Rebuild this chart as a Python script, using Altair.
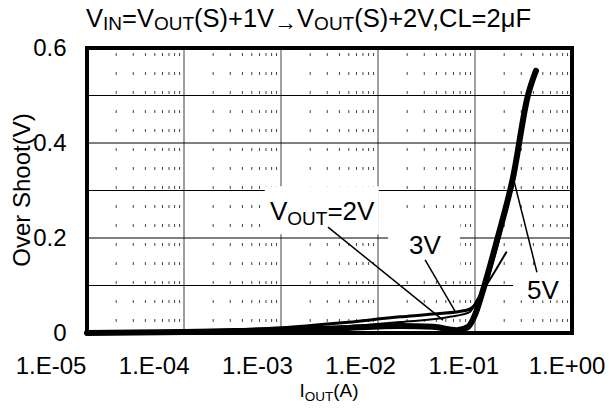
import altair as alt
import pandas as pd

# ---------------- data ----------------
I_2V = [1e-5, 1e-4, 1e-3, 4e-3, 0.017, 0.055, 0.088, 0.104, 0.14, 0.21]
V_2V = [0.0, 0.002, 0.007, 0.013, 0.023, 0.034, 0.044, 0.069, 0.11, 0.17]

I_3V = [1e-5, 1e-4, 1e-3, 4e-3, 0.017, 0.037, 0.082, 0.1, 0.121, 0.169, 0.226]
V_3V = [0.0, 0.004, 0.011, 0.021, 0.034, 0.040, 0.048, 0.059, 0.09, 0.185, 0.29]

I_5V = [1e-5, 1e-4, 1e-3, 4e-3, 0.017, 0.037, 0.065, 0.085, 0.1, 0.121, 0.169, 0.247, 0.35, 0.425]
V_5V = [0.0, 0.002, 0.006, 0.010, 0.015, 0.013, 0.006, 0.013, 0.038, 0.09, 0.196, 0.328, 0.499, 0.552]

x_tick_values = [1e-5, 1e-4, 1e-3, 1e-2, 1e-1, 1.0]
x_tick_labels = ["1.E-05", "1.E-04", "1.E-03", "1.E-02", "1.E-01", "1.E+00"]
y_tick_values = [0, 0.2, 0.4, 0.6]
x_major_grid = [1e-4, 1e-3, 1e-2, 1e-1]
x_minor_grid = [m * d for d in [1e-5, 1e-4, 1e-3, 1e-2, 1e-1] for m in range(2, 10)]
y_grid = [0.1, 0.2, 0.3, 0.4, 0.5]

# annotation positions in data units
box_2V = [6.8e-4, 0.0102, 0.309, 0.208]
box_3V = [0.0127, 0.070, 0.234, 0.139]
box_5V = [0.247, 0.95, 0.143, 0.069]
ptr_2V = [3.05e-3, 0.0468, 0.223, 0.027]
ptr_3V = [0.0306, 0.0622, 0.154, 0.046]
ptr_5V = [0.247, 0.435, 0.328, 0.128]
lab_2V = [7.7e-4, 0.238]
lab_3V = [0.0209, 0.166]
lab_5V = [0.343, 0.072]

# ---------------- helpers ----------------
FONT = "Liberation Sans"
W, H = 485, 285
ARIAL = {'V': 667, 'I': 278, 'N': 722, '=': 584, 'O': 778, 'U': 722, 'T': 611,
         '(': 333, 'S': 667, ')': 333, '+': 584, '1': 556, '2': 556, ',': 278,
         'C': 722, 'L': 556, 'μ': 576, 'F': 611, 'A': 667, '→': 1000,
         '3': 556, '5': 556}


def tw(s, size):
    return sum(ARIAL.get(c, 556) for c in s) / 1000 * size


xs = alt.Scale(type="log", domain=[1e-5, 1], nice=False)
ys = alt.Scale(domain=[0, 0.6], nice=False, zero=False)
yaxis = alt.Axis(values=y_tick_values, labelExpr="datum.value == 0 ? '0' : format(datum.value, '.1f')",
                 labelFontSize=24, labelFont=FONT, labelColor="black", labelPadding=21,
                 ticks=False, domain=False, grid=False, title=None)

X = lambda f: alt.X(f, type="quantitative", scale=xs, axis=None)
Y = lambda f: alt.Y(f, type="quantitative", scale=ys, axis=yaxis)

minor = alt.Chart(pd.DataFrame({"x": x_minor_grid})).mark_rule(
    color="#444444", strokeWidth=1, strokeDash=[3, 16], strokeDashOffset=14).encode(x=X("x"))
major = alt.Chart(pd.DataFrame({"x": x_major_grid})).mark_rule(
    color="#808080", strokeWidth=1.5).encode(x=X("x"))
hgrid = alt.Chart(pd.DataFrame({"y": y_grid})).mark_rule(
    color="black", strokeWidth=1).encode(y=Y("y"))

boxes = alt.Chart(pd.DataFrame([box_2V, box_3V, box_5V], columns=["x", "x2", "y", "y2"])).mark_rect(
    color="white").encode(x=X("x"), x2="x2", y=Y("y"), y2="y2")


def curve(xv, yv, width):
    df = pd.DataFrame({"I": xv, "V": yv, "idx": range(len(xv))})
    return alt.Chart(df).mark_line(interpolate="monotone", color="black", strokeWidth=width,
                                   strokeCap="round", strokeJoin="round").encode(
        x=X("I"), y=Y("V"), order="idx:Q")


lines = [curve(I_2V, V_2V, 2), curve(I_3V, V_3V, 3), curve(I_5V, V_5V, 6)]

ptrs = alt.Chart(pd.DataFrame([ptr_2V, ptr_3V, ptr_5V], columns=["x", "x2", "y", "y2"])).mark_rule(
    color="black", strokeWidth=1.5).encode(x=X("x"), x2="x2", y=Y("y"), y2="y2")

frame = alt.Chart(pd.DataFrame({"a": [0]})).mark_rect(
    filled=False, stroke="black", strokeWidth=4).encode(
    x=alt.value(0), x2=alt.value(W), y=alt.value(0), y2=alt.value(H))


def rich_data(segs, pos):
    """segments of (text, size, dy) anchored at a data position"""
    out, off = [], 0.0
    df = pd.DataFrame({"x": [pos[0]], "y": [pos[1]]})
    for text, size, dy in segs:
        out.append(alt.Chart(df).mark_text(text=text, align="left", baseline="alphabetic", font=FONT,
                                           fontSize=size, dx=off, dy=dy, color="black").encode(
            x=X("x"), y=Y("y")))
        off += tw(text, size)
    return out


def rich_px(segs, x0, y0, center=False):
    total = sum(tw(t, s) for t, s, _ in segs)
    off = x0 - total / 2 if center else x0
    out = []
    for text, size, dy in segs:
        out.append(alt.Chart(pd.DataFrame({"t": [text]})).mark_text(
            align="left", baseline="alphabetic", font=FONT, fontSize=size, color="black").encode(
            x=alt.value(off), y=alt.value(y0 + dy), text="t:N"))
        off += tw(text, size)
    return out


ann = []
ann += rich_data([("V", 26, 0), ("OUT", 19, 5), ("=2V", 26, 0)], lab_2V)
ann += rich_data([("3V", 26, 0)], lab_3V)
ann += rich_data([("5V", 26, 0)], lab_5V)

title = rich_px([("V", 25.5, 0), ("IN", 19, 3), ("=V", 25.5, 0), ("OUT", 19, 3), ("(S)+1V", 25.5, 0),
                 ("→", 23, 3), ("V", 25.5, 0), ("OUT", 19, 3), ("(S)+2V,CL=2μF", 25.5, 0)], -1, -21)
xtitle = rich_px([("I", 19, 0), ("OUT", 13.5, 4), ("(A)", 19, 0)], 242, 349, center=True)

ytitle = alt.Chart(pd.DataFrame({"t": ["Over Shoot(V)"]})).mark_text(
    angle=270, align="center", baseline="alphabetic", font=FONT, fontSize=24, color="black").encode(
    x=alt.value(-57), y=alt.value(142), text="t:N")

inner = alt.layer(minor, major, hgrid, boxes, *lines, ptrs, frame, *ann, *title, *xtitle, ytitle)

xlabels = alt.Chart(pd.DataFrame({"v": x_tick_values, "t": x_tick_labels})).mark_text(
    align="center", baseline="alphabetic", font=FONT, fontSize=24, color="black").encode(
    x=alt.X("v:Q", scale=alt.Scale(type="log", domain=[1e-5, 1], nice=False, range=[-36, 480]), axis=None),
    y=alt.value(H + 41), text="t:N")

chart = alt.layer(inner, xlabels).resolve_scale(x="independent").properties(
    width=W, height=H, autosize=alt.AutoSizeParams(type="none"),
    padding={"left": 79, "top": 40, "right": 33, "bottom": 70},
    background="white",
).configure_view(stroke="transparent", strokeWidth=0)

chart.save("out.html", embed_options={"renderer": "svg", "actions": False})
